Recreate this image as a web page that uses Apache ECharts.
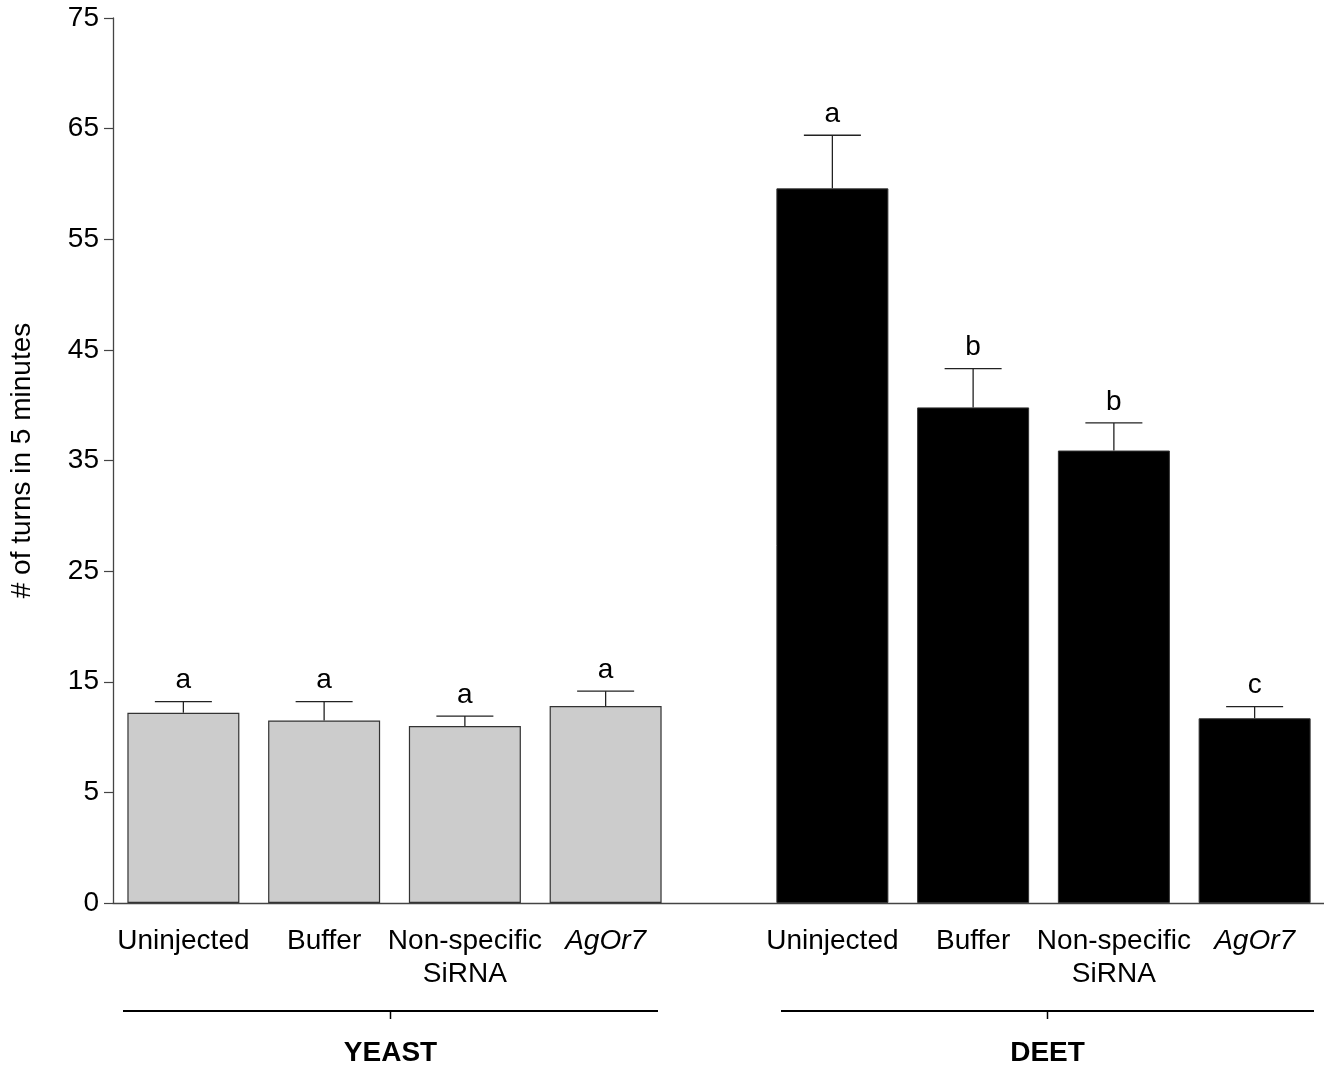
<!DOCTYPE html>
<html>
<head>
<meta charset="utf-8">
<title># of turns in 5 minutes</title>
<script src="https://cdn.jsdelivr.net/npm/echarts@6/dist/echarts.min.js"></script>
<style>
  html, body { margin: 0; padding: 0; background: #ffffff; }
  #chart { width: 1324px; height: 1067px; }
</style>
</head>
<body>
<div id="chart"></div>
<script>
// Treatment categories (same for both stimulus groups)
const categories = ['Uninjected', 'Buffer', 'Non-specific\nSiRNA', 'AgOr7'];

// Yeast stimulus: mean turns and SEM
const yeastMeans = [12.2, 11.5, 11.0, 12.8];
const yeastErrors = [1.0, 1.7, 0.9, 1.35];
const yeastLetters = ['a', 'a', 'a', 'a'];

// DEET stimulus: mean turns and SEM
const deetMeans = [59.6, 39.8, 35.9, 11.7];
const deetErrors = [4.8, 3.5, 2.5, 1.05];
const deetLetters = ['a', 'b', 'b', 'c'];

// Value axis: ticks every 10, bottom tick printed as 0
const yMin = -5;
const yMax = 75;
const yStep = 10;
const yTickLabels = ['0', '5', '15', '25', '35', '45', '55', '65', '75'];

const groupNames = ['YEAST', 'DEET'];

const FONT = '"Liberation Sans", Arial, Helvetica, sans-serif';
const INK = '#222222';

function errorBars(means, errors, letters) {
  return function (params, api) {
    const i = params.dataIndex;
    const base = api.coord([i, means[i]]);
    const top = api.coord([i, means[i] + errors[i]]);
    const half = 28.5;
    return {
      type: 'group',
      children: [
        { type: 'line', shape: { x1: base[0], y1: base[1], x2: top[0], y2: top[1] },
          style: { stroke: INK, lineWidth: 1.3 } },
        { type: 'line', shape: { x1: top[0] - half, y1: top[1], x2: top[0] + half, y2: top[1] },
          style: { stroke: INK, lineWidth: 1.3 } },
        { type: 'text', x: top[0], y: top[1] - 7,
          style: { text: letters[i], fill: '#000', font: '28px ' + FONT,
                   align: 'center', verticalAlign: 'bottom' } }
      ]
    };
  };
}

function categoryAxis(gridIndex) {
  return {
    type: 'category',
    gridIndex: gridIndex,
    data: categories,
    axisLine: { show: false },
    axisTick: { show: true, alignWithLabel: true, length: 9, lineStyle: { color: INK, width: 1.2 } },
    axisLabel: {
      color: '#000', fontSize: 28, fontFamily: FONT, margin: 22, lineHeight: 33,
      interval: 0,
      formatter: function (v) { return v === 'AgOr7' ? '{it|' + v + '}' : v; },
      rich: { it: { fontStyle: 'italic', fontSize: 28, fontFamily: FONT, color: '#000', lineHeight: 33 } }
    },
    splitLine: { show: false }
  };
}

function valueAxis(gridIndex, visible) {
  return {
    type: 'value',
    gridIndex: gridIndex,
    min: yMin, max: yMax, interval: yStep,
    startValue: yMin,
    show: visible,
    name: visible ? '# of turns in 5 minutes' : '',
    nameLocation: 'middle',
    nameRotate: 90,
    nameGap: 77,
    nameTextStyle: { color: '#000', fontSize: 28, fontFamily: FONT },
    axisLine: { show: true, lineStyle: { color: '#444444', width: 1.3 } },
    axisTick: { show: true, inside: false, length: 9, lineStyle: { color: '#444444', width: 1.2 } },
    axisLabel: {
      color: '#000', fontSize: 28, fontFamily: FONT, margin: 14,
      formatter: function (v, idx) { return yTickLabels[idx]; }
    },
    splitLine: { show: false }
  };
}

const chart = echarts.init(document.getElementById('chart'), null, { renderer: 'canvas' });

chart.setOption({
  animation: false,
  backgroundColor: '#ffffff',
  grid: [
    { left: 113, top: 18, width: 563, height: 885, outerBoundsMode: 'none' },
    { left: 762, top: 18, width: 563, height: 885, outerBoundsMode: 'none' },
    { left: 113, top: 18, right: 0, height: 885, outerBoundsMode: 'none' }
  ],
  xAxis: [
    categoryAxis(0),
    categoryAxis(1),
    { type: 'value', gridIndex: 2, min: 0, max: 1,
      axisLine: { show: true, onZero: false, lineStyle: { color: '#444444', width: 1.3 } },
      axisTick: { show: false }, axisLabel: { show: false }, splitLine: { show: false } }
  ],
  yAxis: [
    valueAxis(0, true),
    valueAxis(1, false),
    { type: 'value', gridIndex: 2, show: false, min: 0, max: 1, splitLine: { show: false } }
  ],
  series: [
    {
      name: groupNames[0], type: 'bar', xAxisIndex: 0, yAxisIndex: 0,
      data: yeastMeans, barWidth: 112,
      itemStyle: { color: '#cccccc', borderColor: '#333333', borderWidth: 1.2 }
    },
    {
      name: groupNames[1], type: 'bar', xAxisIndex: 1, yAxisIndex: 1,
      data: deetMeans, barWidth: 112,
      itemStyle: { color: '#000000', borderColor: '#333333', borderWidth: 1 }
    },
    {
      type: 'custom', xAxisIndex: 0, yAxisIndex: 0, z: 5,
      renderItem: errorBars(yeastMeans, yeastErrors, yeastLetters),
      data: yeastMeans.map(function (m, i) { return [i, m, m + yeastErrors[i]]; }),
      encode: { x: 0, y: [1, 2] }
    },
    {
      type: 'custom', xAxisIndex: 1, yAxisIndex: 1, z: 5,
      renderItem: errorBars(deetMeans, deetErrors, deetLetters),
      data: deetMeans.map(function (m, i) { return [i, m, m + deetErrors[i]]; }),
      encode: { x: 0, y: [1, 2] }
    }
  ],
  graphic: [
    // Group brackets under the category labels
    { type: 'line', shape: { x1: 123, y1: 1011, x2: 658, y2: 1011 }, style: { stroke: '#000', lineWidth: 2 } },
    { type: 'line', shape: { x1: 390.5, y1: 1011, x2: 390.5, y2: 1019 }, style: { stroke: '#000', lineWidth: 1.5 } },
    { type: 'line', shape: { x1: 781, y1: 1011, x2: 1314, y2: 1011 }, style: { stroke: '#000', lineWidth: 2 } },
    { type: 'line', shape: { x1: 1047.5, y1: 1011, x2: 1047.5, y2: 1019 }, style: { stroke: '#000', lineWidth: 1.5 } },
    { type: 'text', x: 390.5, y: 1053,
      style: { text: groupNames[0], fill: '#000', font: 'bold 28px ' + FONT, align: 'center', verticalAlign: 'middle' } },
    { type: 'text', x: 1047.5, y: 1053,
      style: { text: groupNames[1], fill: '#000', font: 'bold 28px ' + FONT, align: 'center', verticalAlign: 'middle' } }
  ]
});
</script>
</body>
</html>
